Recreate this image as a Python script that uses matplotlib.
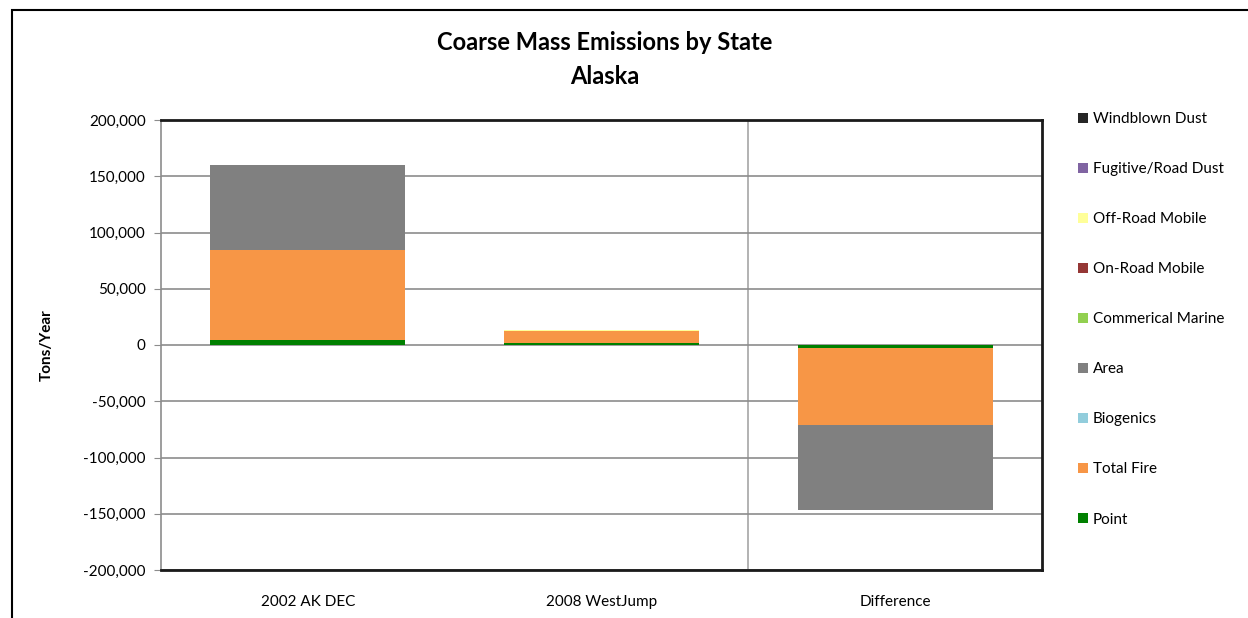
import numpy as np
import matplotlib
matplotlib.use("Agg")
import matplotlib.pyplot as plt
from matplotlib.patches import Rectangle, Patch

plt.rcParams['font.family'] = ['Lato', 'DejaVu Sans']

categories = ["2002 AK DEC", "2008 WestJump", "Difference"]

# stacking order bottom -> top (legend shows it reversed)
sectors = ["Point", "Total Fire", "Biogenics", "Area", "Commerical Marine",
           "On-Road Mobile", "Off-Road Mobile", "Fugitive/Road Dust", "Windblown Dust"]
colors = ["#008000", "#F79646", "#92CDDC", "#808080", "#92D050",
          "#953735", "#FFFF99", "#8064A2", "#262626"]

point = [4600, 1800, -2800]
total_fire = [79500, 11000, -68500]
biogenics = [0, 0, 0]
area = [75700, 0, -75700]
commercial_marine = [0, 0, 0]
on_road = [100, 50, 0]
off_road = [400, 250, 300]
fugitive = [0, 0, 0]
windblown = [0, 0, 0]

series = [point, total_fire, biogenics, area, commercial_marine,
          on_road, off_road, fugitive, windblown]

fig = plt.figure(figsize=(12.48, 6.18), dpi=100)
ax = fig.add_axes([161/1248, 1-570/618, (1042-161)/1248, (570-120)/618])

x = np.arange(len(categories))
pos_bottom = np.zeros(len(categories))
neg_bottom = np.zeros(len(categories))
for name, col, vals in zip(sectors, colors, series):
    vals = np.array(vals, dtype=float)
    bottoms = np.where(vals >= 0, pos_bottom, neg_bottom)
    ax.bar(x, vals, width=0.665, bottom=bottoms, color=col, linewidth=0, zorder=3)
    pos_bottom += np.where(vals > 0, vals, 0)
    neg_bottom += np.where(vals < 0, vals, 0)

ax.set_xlim(-0.5, 2.5)
ax.set_ylim(-200000, 200000)
ax.set_yticks(np.arange(-200000, 200001, 50000))
ax.yaxis.set_major_formatter(matplotlib.ticker.FuncFormatter(lambda v, p: "{:,.0f}".format(v)))
ax.yaxis.grid(True, color="#8c8c8c", linewidth=1.2, zorder=0)
ax.axvline(1.5, color="#a6a6a6", linewidth=1.2, zorder=1)
ax.set_xticks(x)
ax.set_xticklabels(categories)
ax.tick_params(axis='x', length=0, pad=18, labelsize=11)
ax.tick_params(axis='y', length=5, color="#8c8c8c", labelsize=11, pad=6)

for side in ["top", "right", "bottom"]:
    ax.spines[side].set_color("#1a1a1a")
    ax.spines[side].set_linewidth(2)
ax.spines["left"].set_color("#8c8c8c")
ax.spines["left"].set_linewidth(1.2)

ax.set_ylabel("Tons/Year", fontsize=11, fontweight="bold", labelpad=21)

fig.text(605/1248, 1-43/618, "Coarse Mass Emissions by State", ha="center", va="center",
         fontsize=17, fontweight="bold")
fig.text(605/1248, 1-77/618, "Alaska", ha="center", va="center",
         fontsize=17, fontweight="bold")

handles = [Patch(facecolor=c, edgecolor="none", label=s) for s, c in zip(sectors, colors)][::-1]
fig.legend(handles=handles, loc="upper left", bbox_to_anchor=(1072/1248, 1-106/618),
           frameon=False, fontsize=11, handlelength=0.65, handleheight=0.65,
           handletextpad=0.3, labelspacing=2.36, borderaxespad=0)

fig.patches.append(Rectangle((12/1248, -0.1), 1.2, 1.1 - 10/618, transform=fig.transFigure,
                             fill=False, edgecolor="black", linewidth=1.5))

fig.savefig("out.png", dpi=100)
